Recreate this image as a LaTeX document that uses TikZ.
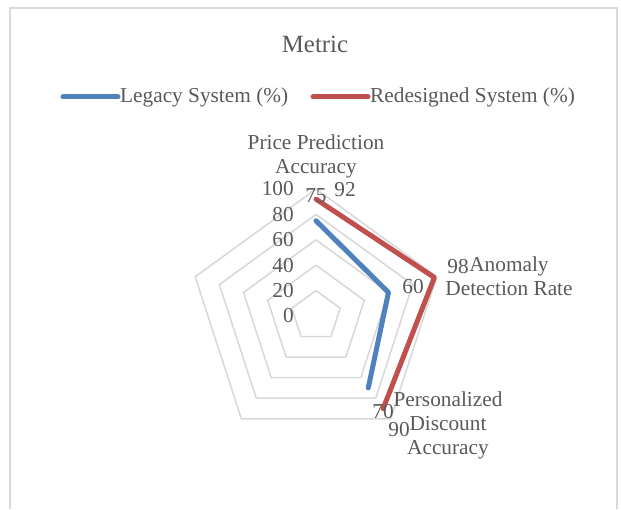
\documentclass[tikz,border=0pt]{standalone}
\usepackage{fontspec}
\setmainfont{Liberation Serif}
\usetikzlibrary{math}

\definecolor{legacyblue}{HTML}{4F81BD}
\definecolor{redesignred}{HTML}{C0504D}
\definecolor{ringgray}{HTML}{D9D9D9}
\definecolor{labelgray}{HTML}{595959}

\tikzset{
  lbl/.style={text=labelgray, font=\fontsize{21.3}{24}\selectfont, inner sep=0pt},
  ring/.style={draw=ringgray, line width=1.6pt, line join=round},
  series/.style={line width=5pt, line cap=round, line join=round},
}

\begin{document}
\begin{tikzpicture}[x=1pt, y=1pt]
  \tikzmath{\rmax = 127;}
  \tikzmath{\ringgap = \rmax/5;}

  \useasboundingbox (-316, -193) rectangle (305, 316);

  \draw[ringgray, line width=1.5pt] (-306, -193) -- (-306, 308) -- (301, 308) -- (301, -193);

  \node[lbl, font=\fontsize{24.8}{30}\selectfont] (title) at (-1, 272) {Metric};

  \draw[series, legacyblue] (-253, 219) -- (-198, 219);
  \node[lbl, anchor=west] (legacykey) at (-196, 219) {Legacy System (\%)};
  \draw[series, redesignred] (-3, 219) -- (52, 219);
  \node[lbl, anchor=west] (redesignkey) at (54, 219) {Redesigned System (\%)};

  \foreach \k in {1,...,5}
    \draw[ring] (90:\k*\ringgap) -- (18:\k*\ringgap) -- (-54:\k*\ringgap)
      -- (-126:\k*\ringgap) -- (-198:\k*\ringgap) -- cycle;

  \foreach \v [count=\k from 0] in {0,20,...,100}
    \node[lbl, anchor=east] (tick\v) at (-22, \k*\ringgap) {\v};

  \node[lbl, align=center] (price) at (0, 160) {Price Prediction\\Accuracy};
  \node[lbl, align=center] (anomaly) at (193, 40) {Anomaly\\Detection Rate};
  \node[lbl, align=center] (discount) at (132, -109) {Personalized\\Discount\\Accuracy};

  \coordinate (lp) at (90:0.75*\rmax);
  \coordinate (la) at (18:0.60*\rmax);
  \coordinate (ld) at (-54:0.70*\rmax);
  \coordinate (rp) at (90:0.92*\rmax);
  \coordinate (ra) at (18:0.98*\rmax);
  \coordinate (rd) at (-54:0.90*\rmax);

  \draw[series, legacyblue] (lp) -- (la) -- (ld);
  \draw[series, redesignred] (rp) -- (ra) -- (rd);

  \node[lbl] (lpval) at (0, 120) {75};
  \node[lbl] (rpval) at (29, 126) {92};
  \node[lbl] (laval) at (97, 29) {60};
  \node[lbl] (raval) at (142, 49) {98};
  \node[lbl] (ldval) at (67, -96) {70};
  \node[lbl] (rdval) at (83, -114) {90};
\end{tikzpicture}
\end{document}
